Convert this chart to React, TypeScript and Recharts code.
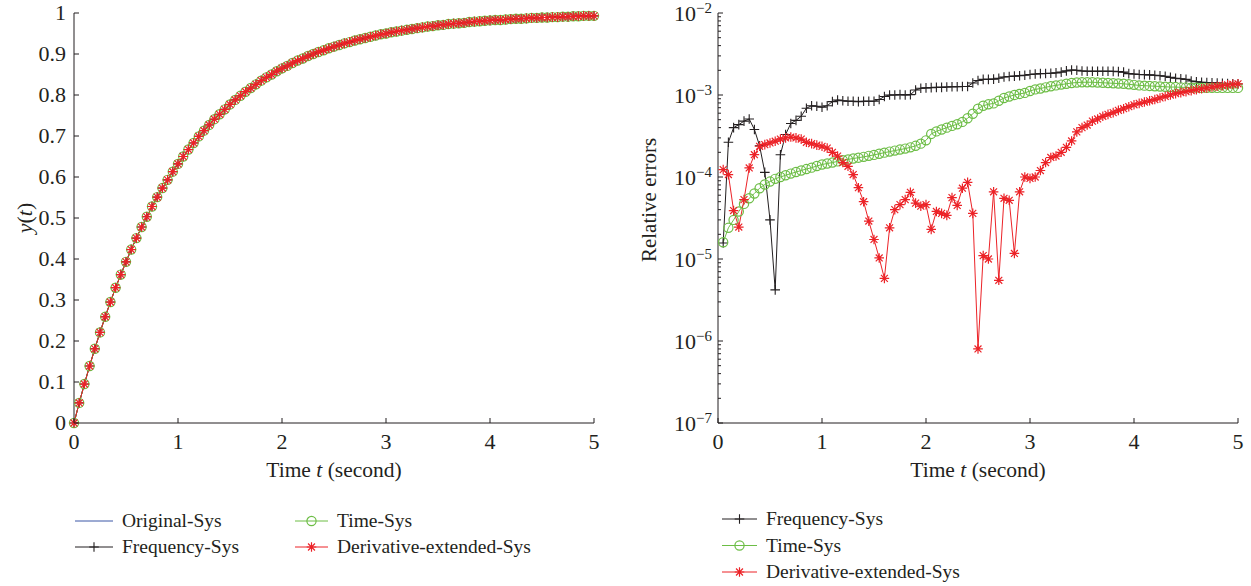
import { LineChart, Line, XAxis, YAxis } from 'recharts'

const INK = '#231f20'
const BLUE = '#3b57a6'
const GREEN = '#6cbd45'
const RED = '#ec2227'
const FONT = '"Liberation Serif", "Times New Roman", serif'

// time grid (seconds), sample every 0.05 s
const timeGrid = [
  0, 0.05, 0.1, 0.15, 0.2, 0.25, 0.3, 0.35, 0.4, 0.45, 0.5, 0.55, 0.6, 0.65, 0.7, 0.75, 0.8, 0.85, 0.9, 0.95,
  1, 1.05, 1.1, 1.15, 1.2, 1.25, 1.3, 1.35, 1.4, 1.45, 1.5, 1.55, 1.6, 1.65, 1.7, 1.75, 1.8, 1.85, 1.9, 1.95,
  2, 2.05, 2.1, 2.15, 2.2, 2.25, 2.3, 2.35, 2.4, 2.45, 2.5, 2.55, 2.6, 2.65, 2.7, 2.75, 2.8, 2.85, 2.9, 2.95,
  3, 3.05, 3.1, 3.15, 3.2, 3.25, 3.3, 3.35, 3.4, 3.45, 3.5, 3.55, 3.6, 3.65, 3.7, 3.75, 3.8, 3.85, 3.9, 3.95,
  4, 4.05, 4.1, 4.15, 4.2, 4.25, 4.3, 4.35, 4.4, 4.45, 4.5, 4.55, 4.6, 4.65, 4.7, 4.75, 4.8, 4.85, 4.9, 4.95,
  5,
]

// y(t) (all four systems overlap)
const stepResponse = [
  0, 0.049, 0.095, 0.139, 0.181, 0.221, 0.259, 0.295, 0.33, 0.362, 0.393, 0.423, 0.451, 0.478, 0.503, 0.528, 0.551, 0.573, 0.593, 0.613,
  0.632, 0.65, 0.667, 0.683, 0.699, 0.713, 0.727, 0.741, 0.753, 0.765, 0.777, 0.788, 0.798, 0.808, 0.817, 0.826, 0.835, 0.843, 0.85, 0.858,
  0.865, 0.871, 0.878, 0.884, 0.889, 0.895, 0.9, 0.905, 0.909, 0.914, 0.918, 0.922, 0.926, 0.929, 0.933, 0.936, 0.939, 0.942, 0.945, 0.948,
  0.95, 0.953, 0.955, 0.957, 0.959, 0.961, 0.963, 0.965, 0.967, 0.968, 0.97, 0.971, 0.973, 0.974, 0.975, 0.976, 0.978, 0.979, 0.98, 0.981,
  0.982, 0.983, 0.983, 0.984, 0.985, 0.986, 0.986, 0.987, 0.988, 0.988, 0.989, 0.989, 0.99, 0.99, 0.991, 0.991, 0.992, 0.992, 0.993, 0.993,
  0.993,
]

// relative errors, t = 0.05 ... 5
const errFrequency = [
  1.57e-5, 2.65e-4, 4.0e-4, 4.35e-4, 4.8e-4, 5.1e-4, 3.8e-4, 2.4e-4, 1.14e-4, 3.0e-5, 4.2e-6, 1.87e-4, 3.3e-4, 4.5e-4, 4.9e-4, 5.5e-4, 6.9e-4, 7.4e-4, 7.3e-4, 7.1e-4,
  7.4e-4, 8.3e-4, 8.7e-4, 8.5e-4, 8.4e-4, 8.4e-4, 8.3e-4, 8.4e-4, 8.4e-4, 8.4e-4, 8.8e-4, 9.6e-4, 1.0e-3, 1.0e-3, 1.01e-3, 1.0e-3, 1.01e-3, 1.15e-3, 1.21e-3, 1.22e-3,
  1.23e-3, 1.24e-3, 1.24e-3, 1.25e-3, 1.26e-3, 1.26e-3, 1.27e-3, 1.27e-3, 1.4e-3, 1.5e-3, 1.55e-3, 1.55e-3, 1.56e-3, 1.6e-3, 1.66e-3, 1.68e-3, 1.7e-3, 1.72e-3, 1.74e-3, 1.78e-3,
  1.8e-3, 1.82e-3, 1.83e-3, 1.84e-3, 1.86e-3, 1.9e-3, 1.97e-3, 2.02e-3, 2.0e-3, 1.96e-3, 1.95e-3, 1.95e-3, 1.95e-3, 1.95e-3, 1.95e-3, 1.94e-3, 1.93e-3, 1.9e-3, 1.82e-3, 1.8e-3,
  1.78e-3, 1.77e-3, 1.76e-3, 1.74e-3, 1.72e-3, 1.69e-3, 1.64e-3, 1.6e-3, 1.58e-3, 1.55e-3, 1.48e-3, 1.45e-3, 1.43e-3, 1.42e-3, 1.41e-3, 1.4e-3, 1.39e-3, 1.38e-3, 1.37e-3, 1.36e-3,
]
const errTime = [
  1.6e-5, 2.4e-5, 3.0e-5, 3.8e-5, 4.7e-5, 5.5e-5, 6.3e-5, 7.3e-5, 8.1e-5, 8.8e-5, 9.5e-5, 1.0e-4, 1.05e-4, 1.1e-4, 1.15e-4, 1.2e-4, 1.25e-4, 1.3e-4, 1.36e-4, 1.42e-4,
  1.46e-4, 1.5e-4, 1.55e-4, 1.6e-4, 1.64e-4, 1.68e-4, 1.72e-4, 1.76e-4, 1.81e-4, 1.86e-4, 1.92e-4, 1.98e-4, 2.04e-4, 2.1e-4, 2.16e-4, 2.22e-4, 2.3e-4, 2.4e-4, 2.55e-4, 2.8e-4,
  3.35e-4, 3.6e-4, 3.8e-4, 4.0e-4, 4.2e-4, 4.4e-4, 4.7e-4, 5.2e-4, 5.9e-4, 6.8e-4, 7.4e-4, 7.7e-4, 7.9e-4, 8.5e-4, 9.2e-4, 9.6e-4, 1.0e-3, 1.03e-3, 1.06e-3, 1.12e-3,
  1.17e-3, 1.2e-3, 1.24e-3, 1.28e-3, 1.31e-3, 1.34e-3, 1.37e-3, 1.4e-3, 1.42e-3, 1.43e-3, 1.43e-3, 1.43e-3, 1.42e-3, 1.41e-3, 1.4e-3, 1.39e-3, 1.38e-3, 1.37e-3, 1.35e-3, 1.33e-3,
  1.31e-3, 1.3e-3, 1.29e-3, 1.28e-3, 1.27e-3, 1.26e-3, 1.25e-3, 1.25e-3, 1.24e-3, 1.24e-3, 1.23e-3, 1.23e-3, 1.22e-3, 1.22e-3, 1.22e-3, 1.22e-3, 1.22e-3, 1.22e-3, 1.22e-3, 1.22e-3,
]
const errDerivative = [
  1.23e-4, 1.07e-4, 3.9e-5, 2.45e-5, 5.3e-5, 1.29e-4, 1.87e-4, 2.37e-4, 2.48e-4, 2.6e-4, 2.73e-4, 2.9e-4, 3.0e-4, 3.07e-4, 3.0e-4, 2.9e-4, 2.65e-4, 2.55e-4, 2.45e-4, 2.37e-4,
  2.25e-4, 2.0e-4, 1.8e-4, 1.5e-4, 1.35e-4, 1.07e-4, 7.4e-5, 5.0e-5, 2.9e-5, 1.73e-5, 1.03e-5, 5.8e-6, 2.4e-5, 4.0e-5, 4.6e-5, 5.3e-5, 6.5e-5, 4.8e-5, 4.4e-5, 4.6e-5,
  2.3e-5, 3.8e-5, 3.6e-5, 3.4e-5, 5.6e-5, 4.5e-5, 7.3e-5, 8.6e-5, 3.6e-5, 8.0e-7, 1.1e-5, 1.0e-5, 6.6e-5, 5.5e-6, 5.5e-5, 5.2e-5, 1.17e-5, 6.6e-5, 1.0e-4, 9.6e-5,
  1.0e-4, 1.2e-4, 1.5e-4, 1.73e-4, 1.8e-4, 2.0e-4, 2.3e-4, 2.75e-4, 3.55e-4, 4.0e-4, 4.3e-4, 4.8e-4, 5.1e-4, 5.5e-4, 5.8e-4, 6.1e-4, 6.5e-4, 6.8e-4, 7.2e-4, 7.6e-4,
  7.9e-4, 8.2e-4, 8.5e-4, 8.8e-4, 9.2e-4, 9.6e-4, 1.0e-3, 1.04e-3, 1.07e-3, 1.1e-3, 1.13e-3, 1.16e-3, 1.19e-3, 1.22e-3, 1.25e-3, 1.28e-3, 1.3e-3, 1.33e-3, 1.35e-3, 1.37e-3,
]

const timeTicks = [0, 1, 2, 3, 4, 5]
const stepTicks = [0, 0.1, 0.2, 0.3, 0.4, 0.5, 0.6, 0.7, 0.8, 0.9, 1]
const decadeTicks = [1e-7, 1e-6, 1e-5, 1e-4, 1e-3, 1e-2]
const minorFactors = [2, 3, 4, 5, 6, 7, 8, 9]
const logTicks = [
  ...decadeTicks,
  ...decadeTicks.slice(0, -1).flatMap((d) => minorFactors.map((k) => k * d)),
]

const stepData = timeGrid.map((t, i) => ({
  t,
  original: stepResponse[i],
  frequency: stepResponse[i],
  time: stepResponse[i],
  derivative: stepResponse[i],
}))
const errTimes = timeGrid.slice(1)
const errData = errTimes.map((t, i) => ({
  t,
  frequency: errFrequency[i],
  time: errTime[i],
  derivative: errDerivative[i],
}))

// ---- markers ----
function PlusMark({ cx, cy, color, r = 4.8 }: any) {
  return <path d={`M${cx - r},${cy}H${cx + r}M${cx},${cy - r}V${cy + r}`} stroke={color} strokeWidth={1.1} fill="none" />
}
function CircleMark({ cx, cy, color, r = 4.6 }: any) {
  return <circle cx={cx} cy={cy} r={r} stroke={color} strokeWidth={1.2} fill="none" />
}
function StarMark({ cx, cy, color, r = 4.8 }: any) {
  const d = r * 0.72
  return (
    <path
      d={`M${cx - r},${cy}H${cx + r}M${cx},${cy - r}V${cy + r}M${cx - d},${cy - d}L${cx + d},${cy + d}M${cx - d},${cy + d}L${cx + d},${cy - d}`}
      stroke={color}
      strokeWidth={1.2}
      fill="none"
    />
  )
}

const dotWith = (Mark: any, color: string) => (p: any) => {
  if (p.cx == null || p.cy == null) return <g key={p.index} />
  return <Mark key={p.index} cx={p.cx} cy={p.cy} color={color} />
}

// ---- ticks (MATLAB style: inward) ----
const BottomTick = ({ x, y, payload }: any) => (
  <g>
    <line x1={x} y1={y} x2={x} y2={y - 5} stroke={INK} />
    <text x={x} y={y + 26} textAnchor="middle" fontSize={22} fill={INK} fontFamily={FONT}>
      {payload.value}
    </text>
  </g>
)
const TopTick = ({ x, y }: any) => <line x1={x} y1={y} x2={x} y2={y + 5} stroke={INK} />
const LeftTick = ({ x, y, payload }: any) => (
  <g>
    <line x1={x} y1={y} x2={x + 5} y2={y} stroke={INK} />
    <text x={x - 8} y={y + 7} textAnchor="end" fontSize={22} fill={INK} fontFamily={FONT}>
      {payload.value}
    </text>
  </g>
)
const RightTick = ({ x, y }: any) => <line x1={x} y1={y} x2={x - 5} y2={y} stroke={INK} />

const isDecade = (v: number) => Math.abs(Math.log10(v) - Math.round(Math.log10(v))) < 1e-6

const LogLeftTick = ({ x, y, payload }: any) => {
  const major = isDecade(payload.value)
  return (
    <g>
      <line x1={x} y1={y} x2={x + (major ? 5 : 3)} y2={y} stroke={INK} />
      {major && (
        <text x={x - 6} y={y + 8} textAnchor="end" fontSize={22} fill={INK} fontFamily={FONT}>
          10
          <tspan dy={-8} fontSize={15}>
            {'\u2212' + Math.abs(Math.round(Math.log10(payload.value)))}
          </tspan>
        </text>
      )}
    </g>
  )
}
const LogRightTick = ({ x, y, payload }: any) => {
  const major = isDecade(payload.value)
  return <line x1={x} y1={y} x2={x - (major ? 5 : 3)} y2={y} stroke={INK} />
}

const XTitle = ({ viewBox }: any) => (
  <text x={viewBox.x + viewBox.width / 2} y={viewBox.y + 54} textAnchor="middle" fontSize={21.5} fill={INK} fontFamily={FONT}>
    Time <tspan fontStyle="italic">t</tspan> (second)
  </text>
)

function LegendBox({ items, left, top, lineW, gapY }: any) {
  return (
    <svg style={{ position: 'absolute', left, top: top - 12, overflow: 'visible' }} width={280} height={gapY * items.length + 12}>
      {items.map((it: any, i: number) => {
        const y = 12 + i * gapY
        const Mark = it.mark
        return (
          <g key={it.name}>
            <line x1={0} y1={y} x2={lineW} y2={y} stroke={it.color} strokeWidth={1} />
            {Mark && <Mark cx={lineW / 2} cy={y} color={it.color} />}
            <text x={lineW + 9} y={y + 6} fontSize={19.5} fill={INK} fontFamily={FONT}>
              {it.name}
            </text>
          </g>
        )
      })}
    </svg>
  )
}

export default function App() {
  return (
    <div style={{ position: 'absolute', left: 0, top: 0, width: 1251, height: 586, background: '#fff', fontFamily: FONT }}>
      <style>{'.recharts-surface{overflow:visible}'}</style>
      <div style={{ position: 'absolute', left: 0, top: 0 }}>
        <LineChart width={620} height={500} data={stepData} margin={{ top: 13, right: 26, left: 0, bottom: 20 }}>
          <XAxis
            dataKey="t"
            type="number"
            domain={[0, 5]}
            ticks={timeTicks}
            interval={0}
            tickSize={0}
            tickMargin={0}
            tickLine={false}
            tick={BottomTick}
            height={57}
            stroke={INK}
            label={XTitle}
          />
          <XAxis xAxisId="top" orientation="top" dataKey="t" type="number" domain={[0, 5]} ticks={timeTicks} interval={0}
            tickSize={0} tickMargin={0} tickLine={false} tick={TopTick} height={0} stroke={INK} />
          <YAxis
            type="number"
            domain={[0, 1]}
            ticks={stepTicks}
            interval={0}
            tickSize={0}
            tickMargin={0}
            tickLine={false}
            tick={LeftTick}
            width={74}
            stroke={INK}
            label={({ viewBox }: any) => (
              <text x={24} y={viewBox.y + viewBox.height / 2} transform={`rotate(-90, 24, ${viewBox.y + viewBox.height / 2})`}
                textAnchor="middle" dominantBaseline="central" fontSize={22} fill={INK} fontFamily={FONT}>
                <tspan fontStyle="italic">y</tspan>(<tspan fontStyle="italic">t</tspan>)
              </text>
            )}
          />
          <YAxis yAxisId="r" orientation="right" type="number" domain={[0, 1]} ticks={stepTicks} interval={0}
            tickSize={0} tickMargin={0} tickLine={false} tick={RightTick} width={0} stroke={INK} />
          <Line dataKey="original" stroke={BLUE} strokeWidth={1} dot={false} activeDot={false} isAnimationActive={false} />
          <Line dataKey="frequency" stroke={INK} strokeWidth={1} dot={dotWith(PlusMark, INK)} activeDot={false} isAnimationActive={false} />
          <Line dataKey="time" stroke={GREEN} strokeWidth={1} dot={dotWith(CircleMark, GREEN)} activeDot={false} isAnimationActive={false} />
          <Line dataKey="derivative" stroke={RED} strokeWidth={1} dot={dotWith(StarMark, RED)} activeDot={false} isAnimationActive={false} />
        </LineChart>
      </div>

      <div style={{ position: 'absolute', left: 625, top: 0 }}>
        <LineChart width={626} height={500} data={errData} margin={{ top: 13, right: 13, left: 0, bottom: 20 }}>
          <XAxis
            dataKey="t"
            type="number"
            domain={[0, 5]}
            ticks={timeTicks}
            interval={0}
            tickSize={0}
            tickMargin={0}
            tickLine={false}
            tick={BottomTick}
            height={57}
            stroke={INK}
            label={XTitle}
          />
          <XAxis xAxisId="top" orientation="top" dataKey="t" type="number" domain={[0, 5]} ticks={timeTicks} interval={0}
            tickSize={0} tickMargin={0} tickLine={false} tick={TopTick} height={0} stroke={INK} />
          <YAxis
            type="number"
            scale="log"
            domain={[1e-7, 1e-2]}
            allowDataOverflow
            ticks={logTicks}
            interval={0}
            tickSize={0}
            tickMargin={0}
            tickLine={false}
            tick={LogLeftTick}
            width={93}
            stroke={INK}
            label={() => (
              <text x={24} y={200} transform="rotate(-90, 24, 200)"
                textAnchor="middle" dominantBaseline="central" fontSize={21} fill={INK} fontFamily={FONT}>
                Relative errors
              </text>
            )}
          />
          <YAxis yAxisId="r" orientation="right" type="number" scale="log" domain={[1e-7, 1e-2]} allowDataOverflow ticks={logTicks}
            interval={0} tickSize={0} tickMargin={0} tickLine={false} tick={LogRightTick} width={0} stroke={INK} />
          <Line dataKey="frequency" stroke={INK} strokeWidth={1} dot={dotWith(PlusMark, INK)} activeDot={false} isAnimationActive={false} />
          <Line dataKey="time" stroke={GREEN} strokeWidth={1} dot={dotWith(CircleMark, GREEN)} activeDot={false} isAnimationActive={false} />
          <Line dataKey="derivative" stroke={RED} strokeWidth={1} dot={dotWith(StarMark, RED)} activeDot={false} isAnimationActive={false} />
        </LineChart>
      </div>

      <LegendBox
        left={75}
        top={521}
        lineW={38}
        gapY={26}
        items={[
          { name: 'Original-Sys', color: BLUE, mark: null },
          { name: 'Frequency-Sys', color: INK, mark: PlusMark },
        ]}
      />
      <LegendBox
        left={295}
        top={521}
        lineW={33}
        gapY={26}
        items={[
          { name: 'Time-Sys', color: GREEN, mark: CircleMark },
          { name: 'Derivative-extended-Sys', color: RED, mark: StarMark },
        ]}
      />
      <LegendBox
        left={722}
        top={519}
        lineW={35}
        gapY={26.5}
        items={[
          { name: 'Frequency-Sys', color: INK, mark: PlusMark },
          { name: 'Time-Sys', color: GREEN, mark: CircleMark },
          { name: 'Derivative-extended-Sys', color: RED, mark: StarMark },
        ]}
      />
    </div>
  )
}
